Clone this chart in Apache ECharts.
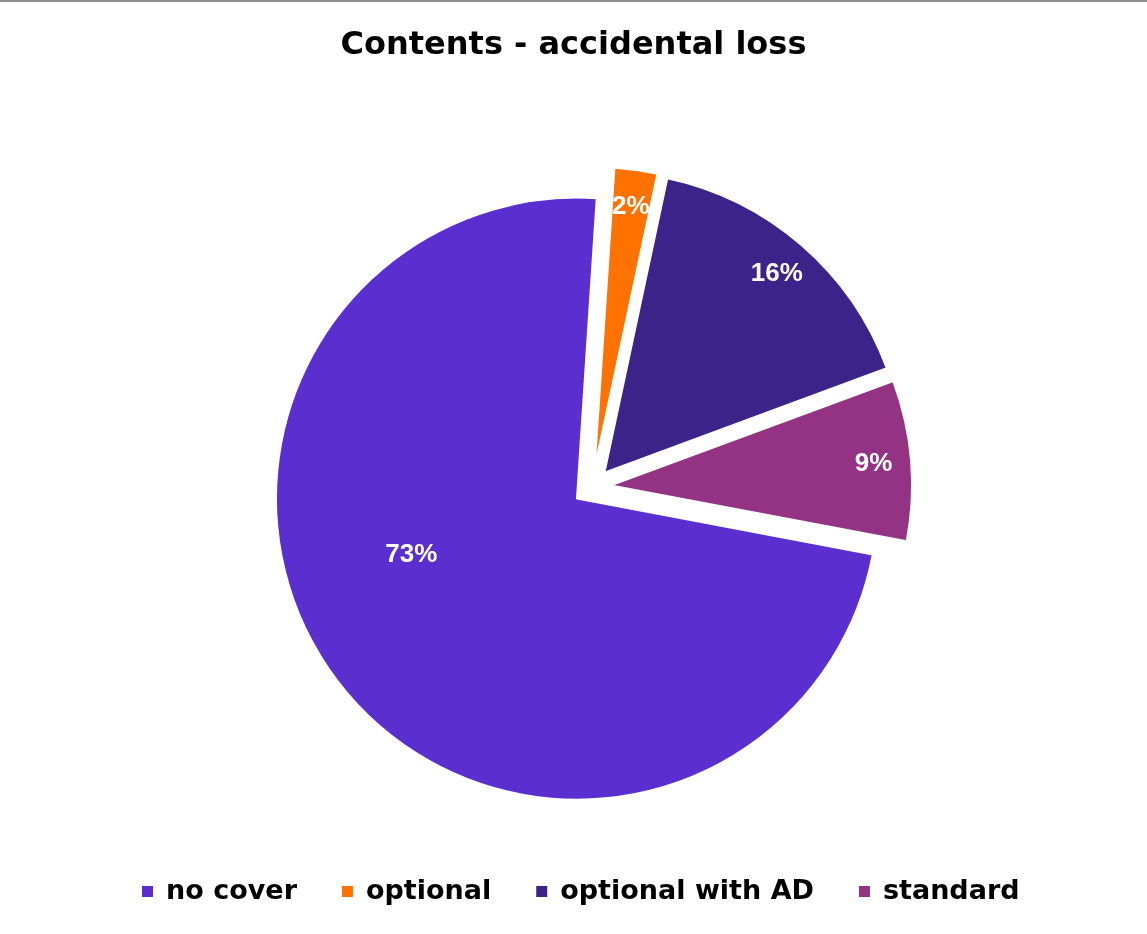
<!DOCTYPE html>
<html>
<head>
<meta charset="utf-8">
<script src="https://cdn.jsdelivr.net/npm/echarts@6/dist/echarts.min.js"></script>
<style>
html,body{margin:0;padding:0;background:#fff;}
#chart{position:absolute;left:0;top:0;width:1147px;height:934px;}
#topline{position:absolute;left:0;top:0;width:1147px;height:2px;background:#8c8c8c;z-index:2;}
</style>
</head>
<body>
<div id="chart"></div>
<div id="topline"></div>
<script>
const titleText = 'Contents - accidental loss';
const categories = ['no cover', 'optional', 'optional with AD', 'standard'];
const values = [73.0, 2.3, 16.0, 8.6];
const exploded = [true, true, true, true];
const colors = ['#5B2ED0', '#FF7201', '#3B2389', '#943384'];

const FONT = 'DejaVu Sans';
const LABEL_FONT = 'Liberation Sans';
const center = [592, 487];
const R = 301;
const startAngle = -10.7;

function mainData() {
  return categories.map((c, i) => ({
    name: c, value: values[i], selected: exploded[i],
    itemStyle: { color: colors[i] }
  }));
}
function labelData(showIdx) {
  return categories.map((c, i) => ({
    name: c, value: values[i], selected: exploded[i],
    itemStyle: { color: 'rgba(0,0,0,0)', borderWidth: 0 },
    label: { show: showIdx.indexOf(i) >= 0 }
  }));
}
const common = {
  type: 'pie', center: center, startAngle: startAngle, clockwise: true,
  selectedMode: 'multiple', selectedOffset: 19, avoidLabelOverlap: false,
  percentPrecision: 0,
  labelLine: { show: false }, emphasis: { disabled: true }, animation: false
};
const labelStyle = {
  position: 'inner', formatter: '{d}%', color: '#fff',
  fontFamily: LABEL_FONT, fontWeight: 'bold', fontSize: 26
};

const chart = echarts.init(document.getElementById('chart'), null, { renderer: 'canvas' });
chart.setOption({
  animation: false,
  backgroundColor: '#ffffff',
  title: {
    text: titleText, left: 'center', top: 30, padding: 0,
    textStyle: { fontFamily: FONT, fontWeight: 'bold', fontSize: 32, color: '#000' }
  },
  legend: {
    data: categories, top: 878, left: 140, padding: 0,
    icon: 'rect', itemWidth: 13, itemHeight: 13, itemGap: 43,
    selectedMode: false,
    textStyle: { fontFamily: FONT, fontWeight: 'bold', fontSize: 27, color: '#000', padding: [0, 0, 0, 7] }
  },
  series: [
    Object.assign({}, common, {
      name: 'main', radius: [0, R], data: mainData(), label: { show: false },
      itemStyle: { borderColor: '#ffffff', borderWidth: 2 }
    }),
    Object.assign({}, common, {
      name: 'labelsA', radius: [44, R], silent: true, data: labelData([0]), label: labelStyle,
      labelLayout: { dx: -27, dy: -51 }
    }),
    Object.assign({}, common, {
      name: 'labelsB', radius: [220, R], silent: true, data: labelData([1, 2, 3]), label: labelStyle
    })
  ]
});
</script>
</body>
</html>
